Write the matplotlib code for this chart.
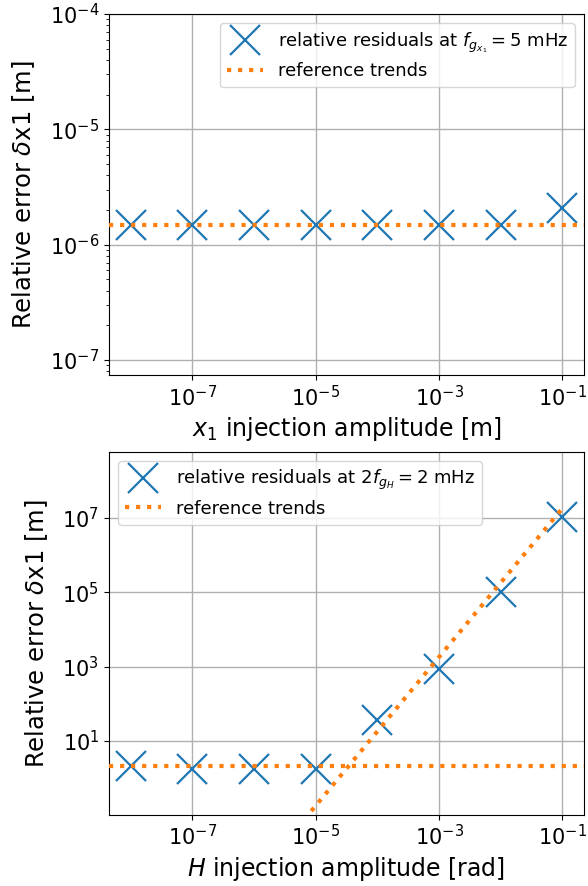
import numpy as np
import matplotlib
matplotlib.use("Agg")
import matplotlib.pyplot as plt
from matplotlib.ticker import NullLocator

# injection amplitudes (same grid for both panels)
amplitudes = [1e-8, 1e-7, 1e-6, 1e-5, 1e-4, 1e-3, 1e-2, 1e-1]

# top panel: x1 injection
x1_residuals = [1.48e-6, 1.48e-6, 1.48e-6, 1.48e-6, 1.48e-6, 1.48e-6, 1.48e-6, 2.08e-6]
x1_floor = 1.48e-6

# bottom panel: H injection
h_residuals = [2.1, 1.7, 1.7, 1.8, 36.7, 850.0, 1.0e5, 1.05e7]
h_floor = 2.1
h_slope_coef = 1.8e9          # trend ~ coef * A^2
h_slope_range = [8.5e-6, 1e-1]

labels_top = [r"relative residuals at $f_{g_{x_1}} = 5$ mHz", "reference trends"]
labels_bot = [r"relative residuals at $2f_{g_H} = 2$ mHz", "reference trends"]

blue = "#1f77b4"
orange = "#ff7f0e"
ms = 22
mew = 1.6

fig = plt.figure(figsize=(5.88, 8.86), dpi=100)
ax1 = fig.add_axes([109 / 588, 1 - 375 / 886, 475 / 588, 361 / 886])
ax2 = fig.add_axes([109 / 588, 1 - 814.5 / 886, 475 / 588, 362.5 / 886])

for ax in (ax1, ax2):
    ax.set_xscale("log")
    ax.set_yscale("log")
    ax.set_xlim(10 ** -8.35, 10 ** -0.65)

# --- top ---
ax1.plot(amplitudes, x1_residuals, "x", color=blue, ms=ms, mew=mew, label=labels_top[0], zorder=3)
xl = ax1.get_xlim()
ax1.plot(xl, [x1_floor, x1_floor], ":", color=orange, lw=3, label=labels_top[1], zorder=4)
ax1.set_xlim(xl)
ax1.set_ylim(10 ** -7.13, 1e-4)
ax1.set_xlabel(r"$x_1$ injection amplitude [m]", fontsize=17)
ax1.set_ylabel(r"Relative error $\delta$x1 [m]", fontsize=17.5, labelpad=9)
ax1.legend(loc="upper right", fontsize=13, labelspacing=0.4)

# --- bottom ---
ax2.plot(amplitudes, h_residuals, "x", color=blue, ms=ms, mew=mew, label=labels_bot[0], zorder=3)
xl = ax2.get_xlim()
ax2.plot(xl, [h_floor, h_floor], ":", color=orange, lw=3, label=labels_bot[1], zorder=4)
xs = np.array(h_slope_range)
ax2.plot(xs, h_slope_coef * xs ** 2, ":", color=orange, lw=3, zorder=4)
ax2.set_xlim(xl)
ax2.set_ylim(10 ** -0.98, 10 ** 8.77)
ax2.set_yticks([1e1, 1e3, 1e5, 1e7])
ax2.yaxis.set_minor_locator(NullLocator())
ax2.set_xlabel(r"$H$ injection amplitude [rad]", fontsize=17)
ax2.set_ylabel(r"Relative error $\delta$x1 [m]", fontsize=17.5, labelpad=9)
ax2.legend(loc="upper left", fontsize=13, labelspacing=0.4)

for ax in (ax1, ax2):
    ax.set_xticks([1e-7, 1e-5, 1e-3, 1e-1])
    ax.xaxis.set_minor_locator(NullLocator())
    ax.tick_params(labelsize=15)
    ax.grid(True, color="#b0b0b0", lw=1.0)
    ax.set_axisbelow(True)

fig.savefig("out.png", dpi=100)
